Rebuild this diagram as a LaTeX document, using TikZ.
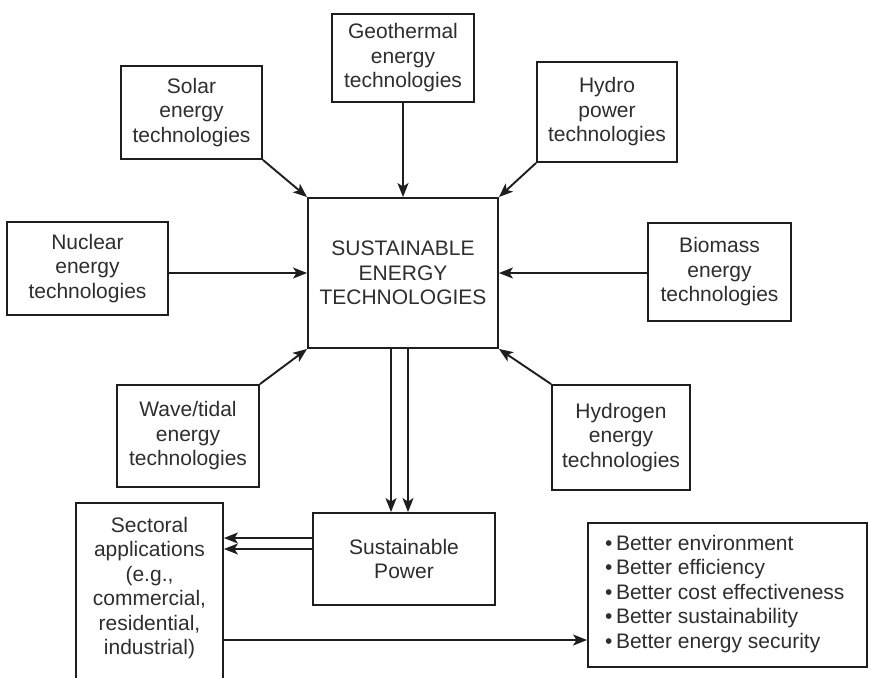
\documentclass[tikz,border=0pt]{standalone}
\usepackage{fontspec}
\setmainfont{Liberation Sans}
\usetikzlibrary{arrows.meta}
\definecolor{ink}{HTML}{1E1E1E}
\definecolor{txt}{HTML}{2E2E2E}
\tikzset{
  box/.style={draw=ink, line width=1.9pt, inner sep=0pt, align=center,
    text=txt, font=\fontsize{21}{24.5}\selectfont},
  lbl/.style={inner sep=0pt, text=txt, font=\fontsize{21}{24.5}\selectfont},
  arr/.style={draw=ink, line width=1.9pt,
    -{Stealth[length=14pt,width=11pt,inset=3.5pt]}},
  ln/.style={draw=ink, line width=1.9pt}
}
\begin{document}
\begin{tikzpicture}[x=1pt,y=-1pt]
\useasboundingbox (0,0) rectangle (869,677);
\fill[white] (0,0) rectangle (869,677);
\clip (0,0) rectangle (869,677);

\node[box, minimum width=190pt, minimum height=150pt] (center) at (403,273)
  {SUSTAINABLE\\ENERGY\\TECHNOLOGIES};
\node[box, minimum width=141pt, minimum height=93pt] (solar) at (191.5,112.5)
  {Solar\\energy\\technologies};
\node[box, minimum width=142pt, minimum height=88pt] (geo) at (403,58)
  {Geothermal\\energy\\technologies};
\node[box, minimum width=140pt, minimum height=100pt] (hydro) at (607,112)
  {Hydro\\power\\technologies};
\node[box, minimum width=161pt, minimum height=93pt] (nuclear) at (87.5,268.5)
  {Nuclear\\energy\\technologies};
\node[box, minimum width=143pt, minimum height=98pt] (biomass) at (719.5,272)
  {Biomass\\energy\\technologies};
\node[box, minimum width=142pt, minimum height=102pt] (wave) at (188,436)
  {Wave/tidal\\energy\\technologies};
\node[box, minimum width=138pt, minimum height=105pt] (hydrogen) at (621,437.5)
  {Hydrogen\\energy\\technologies};
\node[box, minimum width=182pt, minimum height=92pt] (power) at (404,559)
  {Sustainable\\Power};
\node[box, minimum width=147pt, minimum height=197pt] (sect) at (149.5,601.5) {};
\node[lbl, align=center] (secttext) at (149.5,588)
  {Sectoral\\applications\\(e.g.,\\commercial,\\residential,\\industrial)};
\node[box, minimum width=279pt, minimum height=144pt] (benefits) at (727.5,595) {};
\node[lbl, align=left, anchor=west] (bentext) at (605,594)
  {\textbullet\,Better environment\\
   \textbullet\,Better efficiency\\
   \textbullet\,Better cost effectiveness\\
   \textbullet\,Better sustainability\\
   \textbullet\,Better energy security};

\draw[arr] (solar.south east) -- (center.north west);
\draw[arr] (geo.south) -- (geo.south |- center.north);
\draw[arr] (hydro.south west) -- (center.north east);
\draw[arr] (center.west -| nuclear.east) -- (center.west);
\draw[arr] (center.east -| biomass.west) -- (center.east);
\draw[arr] (wave.north east) -- (center.south west);
\draw[arr] (hydrogen.north west) -- (center.south east);

\draw[arr] ([xshift=-12pt]center.south) -- ([xshift=-12pt]center.south |- power.north);
\draw[arr] ([xshift=5pt]center.south) -- ([xshift=5pt]center.south |- power.north);

\draw[arr] ([yshift=21pt]power.west) -- ([yshift=21pt]power.west -| sect.east);
\draw[arr] ([yshift=10pt]power.west) -- ([yshift=10pt]power.west -| sect.east);

\draw[arr] ([yshift=-45pt]benefits.west -| sect.east) -- ([yshift=-45pt]benefits.west);
\end{tikzpicture}
\end{document}
